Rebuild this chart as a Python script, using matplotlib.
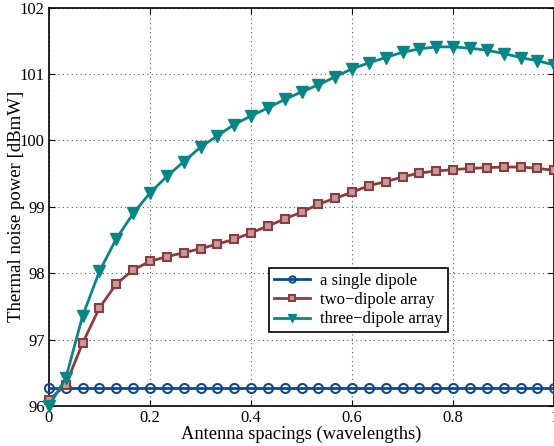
import matplotlib.pyplot as plt
import numpy as np

plt.rcParams['font.family'] = ['Liberation Serif', 'DejaVu Serif']
plt.rcParams['mathtext.fontset'] = 'stix'

spacing = np.arange(31) / 30.0

single = [96.27] * 31

two_dipole = [96.09, 96.32, 96.95, 97.48, 97.84, 98.05, 98.18, 98.25, 98.31, 98.37,
              98.44, 98.51, 98.61, 98.71, 98.82, 98.92, 99.04, 99.13, 99.22, 99.32,
              99.38, 99.45, 99.51, 99.54, 99.56, 99.58, 99.59, 99.60, 99.60, 99.58,
              99.55]

three_dipole = [96.0, 96.42, 97.36, 98.03, 98.52, 98.90, 99.21, 99.46, 99.68, 99.90,
                100.07, 100.24, 100.37, 100.49, 100.62, 100.73, 100.84, 100.96, 101.08, 101.17,
                101.25, 101.33, 101.38, 101.41, 101.41, 101.39, 101.36, 101.31, 101.25, 101.20,
                101.14]

fig = plt.figure(figsize=(5.54, 4.46), dpi=100)
ax = fig.add_axes([0.0884, 0.0897, 0.912, 0.893])

ax.plot(spacing, single, color="#0d4a8f", marker="o", markersize=6.5, markerfacecolor="none",
        markeredgewidth=1.5, linewidth=2, label="a single dipole", clip_on=False, zorder=3)
ax.plot(spacing, two_dipole, color="#8b3c3c", marker="s", markersize=6, markerfacecolor="#c49a9a",
        markeredgewidth=1.5, linewidth=2, label="two\u2212dipole array", clip_on=False, zorder=3)
ax.plot(spacing, three_dipole, color="#0a8585", marker="v", markersize=8,
        linewidth=2, label="three\u2212dipole array", clip_on=False, zorder=4)

ax.set_xlim(0, 1)
ax.set_ylim(96, 102)
ax.set_xticks([0, 0.2, 0.4, 0.6, 0.8, 1])
ax.set_xticklabels(["0", "0.2", "0.4", "0.6", "0.8", "1"])
ax.set_yticks([96, 97, 98, 99, 100, 101, 102])

ax.grid(True, linestyle=(0, (1, 3)), color="#555555", linewidth=0.8)
ax.tick_params(direction="in", top=True, right=True, labelsize=12, length=4, pad=3)
for s in ax.spines.values():
    s.set_linewidth(1.2)

ax.set_xlabel("Antenna spacings (wavelengths)", fontsize=13.3)
ax.set_ylabel("Thermal noise power [dBmW]", fontsize=13.5)
ax.xaxis.set_label_coords(0.5, -0.05)
ax.yaxis.set_label_coords(-0.047, 0.5)

leg = ax.legend(loc="upper left", bbox_to_anchor=(0.435, 0.347), fontsize=12, fancybox=False,
                edgecolor="black", framealpha=1, handlelength=2.2, handletextpad=0.6,
                borderpad=0.3, labelspacing=0.2, markerscale=0.7, borderaxespad=0)
leg.get_frame().set_linewidth(1.2)

plt.savefig("out.png", dpi=100)
